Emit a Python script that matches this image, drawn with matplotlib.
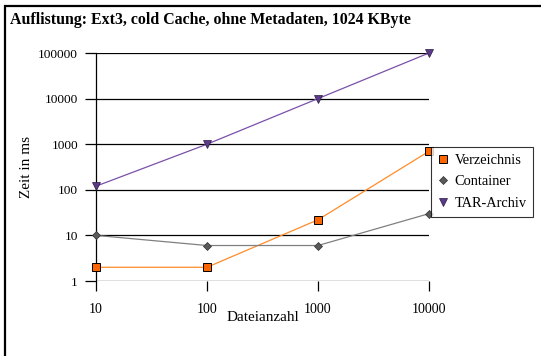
import matplotlib
matplotlib.use("Agg")
import matplotlib.pyplot as plt
from matplotlib.patches import Rectangle

# Data: listing time (ms) by number of files
dateianzahl = [10, 100, 1000, 10000]
verzeichnis = [2, 2, 22, 700]
container = [10, 6, 6, 30]
tar_archiv = [120, 1000, 10000, 100000]
y_ticks = [1, 10, 100, 1000, 10000, 100000]
y_tick_labels = ["1", "10", "100", "1000", "10000", "100000"]
x_tick_labels = ["10", "100", "1000", "10000"]

plt.rcParams["font.family"] = ["Liberation Serif", "DejaVu Serif"]

W, H = 541, 356
fig = plt.figure(figsize=(W / 100, H / 100), dpi=100)

# outer frame (left and top edges visible)
fig.patches.append(Rectangle((5 / W, -0.1), 1.2, (H - 6) / H + 0.1,
                             transform=fig.transFigure, fill=False,
                             edgecolor="black", linewidth=1.6))

fig.text(10 / W, 1 - 20 / H, "Auflistung: Ext3, cold Cache, ohne Metadaten, 1024 KByte",
         fontsize=11.4, fontweight="bold", va="center", ha="left")

ax = fig.add_axes([96 / W, 1 - 281 / H, (429 - 96) / W, (281 - 53) / H])
ax.set_xscale("log")
ax.set_yscale("log")
ax.set_xlim(10, 10000)
ax.set_ylim(1, 100000)

for y in y_ticks:
    ax.axhline(y, color="black", linewidth=0.9, zorder=1)

ax.plot(dateianzahl, verzeichnis, color="#FF8C28", linewidth=0.9, marker="s",
        markersize=6, markerfacecolor="#FF6600", markeredgecolor="black",
        markeredgewidth=0.7, label="Verzeichnis", zorder=3, clip_on=False)
ax.plot(dateianzahl, container, color="#808080", linewidth=0.9, marker="D",
        markersize=4.5, markerfacecolor="#5A5A5A", markeredgecolor="#303030",
        markeredgewidth=0.5, label="Container", zorder=3, clip_on=False)
ax.plot(dateianzahl, tar_archiv, color="#7A50AA", linewidth=0.9, marker="v",
        markersize=6, markerfacecolor="#5B3A8A", markeredgecolor="#2A1A40",
        markeredgewidth=0.5, label="TAR-Archiv", zorder=3, clip_on=False)

for side in ["top", "right", "bottom"]:
    ax.spines[side].set_visible(False)
ax.spines["left"].set_linewidth(0.9)

ax.set_yticks(y_ticks)
ax.set_yticklabels(y_tick_labels)
ax.set_xticks(dateianzahl)
ax.set_xticklabels(x_tick_labels)
ax.minorticks_off()
ax.tick_params(axis="y", length=8, width=0.9, pad=5, labelsize=9.6)
ax.tick_params(axis="x", length=7, width=0.9, pad=9, labelsize=10)

ax.set_xlabel("Dateianzahl", fontsize=11, labelpad=-4)
ax.set_ylabel("Zeit in ms", fontsize=11, labelpad=4)

leg = ax.legend(loc="upper left", bbox_to_anchor=(431 / W, 1 - 147 / H),
                bbox_transform=fig.transFigure, frameon=True, fancybox=False,
                fontsize=10.4, handlelength=0.8, handletextpad=0.4,
                borderpad=0.45, labelspacing=0.6, borderaxespad=0)
leg.get_frame().set_edgecolor("black")
leg.get_frame().set_linewidth(0.8)
for h in leg.legend_handles:
    h.set_linestyle("none")

fig.savefig("out.png", dpi=100)
